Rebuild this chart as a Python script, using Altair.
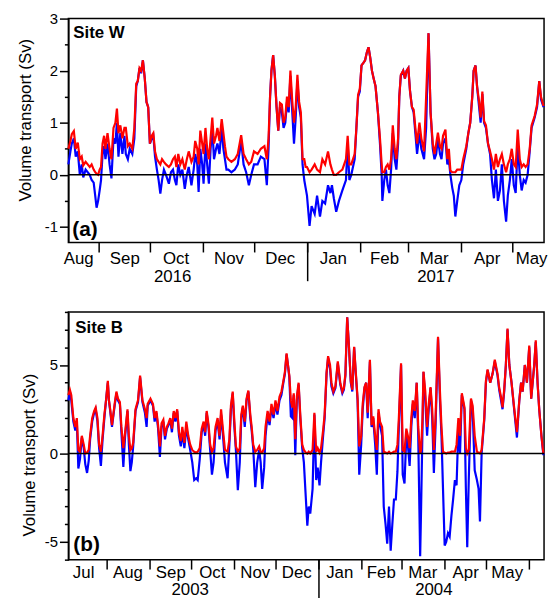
import altair as alt
import pandas as pd

FONT = "Liberation Sans"

# ---------------- Panel (a): Site W, 2016-2017 ----------------
a_start = "2016-08-14"
a_days = [0,1.2,2,3.2,4.3,5.5,6.7,7.8,8.7,10.1,
          11.3,12.5,13.6,14.8,15.7,16.5,17.4,18.3,19.1,20,
          20.9,21.7,22.9,24.1,25.2,26.4,27.5,28.4,29.3,30.4,
          31.6,32.8,33.6,34.8,35.9,37.4,38.6,39.7,40.6,41.6,
          42.6,43.6,44.7,45.7,46.7,47.7,48.8,49.7,50.7,51.8,
          52.8,53.8,54.8,55.9,57.1,58.8,60,61.2,62.3,63.2,
          64.3,65.5,66.7,68.1,69.3,70.4,72,73.3,74.2,75.4,
          76.2,77.2,78.3,79.1,80.2,81.2,82.2,83.2,84.2,85.2,
          86.4,87.2,88.4,89.7,90.7,91.6,92.5,93.6,95.4,97.4,
          99.1,101.1,102.5,104,105.6,107,108.6,110.7,112.6,114.7,
          116.1,117.1,118,118.8,119.8,120.8,121.8,122.8,123.8,124.9,
          125.9,126.9,127.9,128.9,129.9,131,132,133,134,135,
          136,137,138,138.8,139.6,141.1,142.3,144.1,145.5,147.2,
          148.6,150.2,151.9,153.3,154.2,155.3,156.7,158.3,160.3,162.4,
          163.4,164.4,165.5,167.5,168.5,169.5,170.5,171.5,172.6,173.6,
          174.6,175.6,176.6,177.6,178.6,179.7,181.1,182.3,183.3,183.7,
          184.8,185.8,186.8,187.8,188.8,189.8,190.9,191.9,192.9,193.6,
          194.5,195.9,196.9,197.9,198.9,199.9,201,202,203,204,
          205.4,206.5,208.1,209.3,210.7,211.9,213.2,214.2,215.2,216.2,
          217.4,218.3,219.2,220.6,221.7,222.6,223.5,224.6,225.5,226.4,
          227.5,228.7,229.9,231,232.8,234,235.1,236.3,237.1,238.2,
          239.1,240.3,241.2,242.2,243.2,244.3,245.5,246.7,247.8,249,
          250.1,251.3,252.5,253.6,254.8,256.1,257.1,258.3,259.4,260.6,
          261.7,262.9,264.1,265.2,266.4,267.5,268.7,269.9,271,272.8,
          274.2,275.5,276.5,278]
a_blue = [0.2,0.45,0.6,0.7,0.35,0.45,0.0,0.2,-0.05,0.1,
          0.05,0.0,-0.1,-0.15,-0.4,-0.63,-0.5,-0.3,-0.1,0.4,
          0.55,0.3,0.6,0.2,-0.07,0.7,0.6,1.0,0.35,0.8,
          0.4,0.75,0.4,0.3,0.5,0.4,0.7,1.7,1.8,2.05,
          1.95,2.2,1.85,1.4,1.3,0.6,0.7,0.75,0.35,0.1,
          -0.1,-0.36,-0.1,0.1,0.0,-0.17,0.05,0.1,-0.1,-0.2,
          0.2,0.0,0.1,-0.27,0.0,0.15,-0.2,0.1,0.4,0.2,
          -0.33,0.5,0.2,-0.17,0.6,0.2,-0.17,0.5,0.9,0.3,
          0.5,0.6,0.4,0.9,0.5,0.3,0.1,0.1,0.05,0.1,
          0.2,0.65,0.2,0.05,-0.2,0.0,0.2,0.2,0.35,0.3,
          -0.2,0.5,1.5,2.0,2.3,1.9,1.3,0.85,1.3,1.2,
          0.9,1.0,1.4,1.2,1.9,1.2,0.6,1.1,1.8,1.3,
          1.1,0.2,-0.1,-0.25,-0.4,-0.98,-0.6,-0.75,-0.4,-0.8,
          -0.5,-0.55,-0.2,-0.35,-0.2,-0.45,-0.71,-0.5,-0.3,-0.1,
          0.6,-0.1,0.0,0.3,0.9,1.5,1.6,2.1,2.15,2.2,
          2.35,2.45,2.25,2.0,1.85,1.7,1.2,0.6,0.0,-0.5,
          -0.1,0.1,-0.2,-0.35,0.1,0.8,0.3,0.1,0.6,1.5,
          1.9,2.0,1.85,2.0,2.05,1.6,1.3,1.2,0.8,0.4,
          0.8,0.5,0.3,0.9,2.72,1.2,0.5,0.3,0.4,0.7,
          0.4,0.3,0.6,0.7,0.2,0.3,0.0,-0.25,-0.4,-0.8,
          -0.5,-0.2,-0.1,0.2,0.5,0.8,1.0,1.5,2.0,2.1,
          1.7,1.3,1.0,1.55,1.0,0.9,0.6,0.4,-0.1,-0.45,
          0.1,-0.5,-0.3,0.2,-0.5,-0.9,-0.4,-0.1,0.3,-0.2,
          -0.35,0.6,0.0,-0.3,-0.1,-0.15,0.0,0.45,0.9,1.1,
          1.3,1.8,1.45,1.3]
a_red = [0.5,0.65,0.78,0.84,0.5,0.62,0.3,0.35,0.18,0.25,
         0.2,0.15,0.2,0.1,0.05,0.02,0.0,0.1,0.15,0.6,
         0.75,0.5,0.8,0.5,0.3,0.9,1.0,1.27,0.8,0.95,
         0.7,0.9,0.9,0.55,0.6,0.5,0.9,1.75,1.8,2.05,
         2.0,2.2,1.85,1.4,1.3,0.6,0.75,0.8,0.45,0.3,
         0.25,0.2,0.3,0.25,0.2,0.15,0.2,0.3,0.35,0.15,
         0.4,0.2,0.3,0.1,0.3,0.45,0.25,0.35,0.65,0.5,
         0.2,0.85,0.6,0.4,0.9,0.5,0.3,0.7,1.1,0.6,
         0.75,0.9,0.65,1.07,0.8,0.55,0.35,0.3,0.25,0.3,
         0.4,0.76,0.4,0.3,0.2,0.25,0.45,0.4,0.5,0.55,
         0.3,0.7,1.5,2.0,2.3,1.9,1.3,0.85,1.38,1.35,
         1.0,1.1,1.5,1.3,2.0,1.4,1.0,1.3,1.92,1.4,
         1.2,0.3,0.3,0.15,0.15,0.05,0.1,0.2,0.1,0.05,
         0.3,0.2,0.45,0.2,0.1,0.0,0.0,0.05,0.1,0.3,
         0.75,0.2,0.2,0.4,0.9,1.54,1.65,2.1,2.15,2.2,
         2.35,2.45,2.25,2.0,1.85,1.7,1.2,0.7,0.2,0.05,
         0.05,0.15,0.2,0.1,0.3,0.95,0.5,0.3,0.7,1.5,
         1.92,2.0,1.85,2.0,2.05,1.6,1.3,1.25,0.9,0.6,
         1.0,0.7,0.45,1.5,2.72,1.2,0.6,0.4,0.6,0.81,
         0.55,0.5,0.75,0.87,0.3,0.5,0.08,0.05,0.05,0.05,
         0.1,0.1,0.1,0.3,0.55,0.8,1.0,1.5,2.0,2.1,
         1.7,1.4,1.1,1.6,1.03,0.95,0.6,0.45,0.3,0.1,
         0.4,0.15,0.3,0.4,0.2,0.05,0.2,0.3,0.5,0.2,
         0.15,0.87,0.3,0.15,0.2,0.15,0.2,0.5,0.95,1.13,
         1.35,1.8,1.5,1.32]
a_domain = ["2016-08-14T00:00:00Z", "2017-05-19T07:00:00Z"]
a_month_ticks = ["2016-09-01", "2016-10-01", "2016-11-01", "2016-12-01", "2017-01-01",
                 "2017-02-01", "2017-03-01", "2017-04-01", "2017-05-01"]
a_month_names = ["Aug", "Sep", "Oct", "Nov", "Dec", "Jan", "Feb", "Mar", "Apr", "May"]
a_month_pos = ["2016-08-20", "2016-09-16", "2016-10-16", "2016-11-16", "2016-12-16",
               "2017-01-16", "2017-02-15", "2017-03-16", "2017-04-16", "2017-05-12"]
a_years = ["2016", "2017"]
a_year_pos = ["2016-10-14", "2017-03-17"]
a_year_break = ["2017-01-01"]
a_yticks_major = [-1, 0, 1, 2, 3]
a_yticks_minor = [-0.5, 0.5, 1.5, 2.5]
a_ydomain = [-1.3, 3]

# ---------------- Panel (b): Site B, 2003-2004 ----------------
b_start = "2003-07-04"
b_days = [0,1.1,2.1,3.6,5,6.1,7.2,8.4,9.7,11.1,
          12.2,13.5,14.7,15.7,17.2,18.6,19.7,21,22.2,23.5,
          24.7,26,27.2,28.5,29.3,30.2,31.5,32.6,33.6,34.7,
          35.8,37.2,38.3,39.7,41,42.7,43.7,44.8,45.8,46.8,
          48.5,50.3,51.8,53.5,55.3,56.5,57.3,59.3,61.1,62.3,
          63.6,64.8,66.1,67.3,68.6,69.8,71.1,72.3,73.6,74.8,
          76.1,77.3,78.6,79.9,81.2,82.3,83.8,85.2,86.6,88,
          89.5,90.9,92.3,93.4,94.9,96.3,97.7,98.8,99.9,101.3,
          102.4,103.7,104.9,106.3,107.8,109.2,110.3,111.7,113.1,115,
          116.3,117.4,118.7,119.9,121,122.4,123.8,124.9,126,127.4,
          128.7,130,131.4,132.4,133.5,135,136.4,137.8,138.9,140,
          141.4,142.4,143.9,145.3,146.7,148.2,149.6,151,152.5,153.9,
          155.3,156.4,157.6,158.6,159.6,160.7,161.8,162.8,163.9,165,
          166.3,167.5,168.9,170.1,171.5,172.6,173.6,174.7,176.4,177.7,
          179,180.1,181.4,182.5,184,185.1,186.5,187.6,189,190,
          191.4,192.9,194.6,196.4,197.9,199,200.1,201.4,202.7,204,
          205.1,206.4,207.6,208.9,210.1,211.5,212.6,213.9,215.1,216.2,
          217.8,219,220.2,221.6,222.8,224,225.1,226.6,227.8,229.1,
          230.3,231.6,232.8,234,235.2,236.5,237.7,238.7,240.3,241.5,
          242.8,244.1,245.2,246.5,247.7,248.8,250.2,251.6,252.7,254.1,
          254.8,255.8,256.5,257.8,259.1,260.3,261.6,262.8,264,265.2,
          267,268.4,269.5,270.6,271.8,272.9,274.2,275.4,276.7,277.9,
          279.2,280.4,281.7,282.9,284.2,286.1,287.1,288.1,289.2,290.8,
          292,293.5,295.1,296.3,297.3,298.5,300.4,301.6,302.8,304.7,
          306.4,308,310,311.2,312.5,313.6,314.8,316,317.2,318.5,
          320.1,322.1,324,325.7,327,328.1,329.7,331.2,332.9,334.3,
          336.5,337.6,338.9,340.1,341.7,343.1]
b_blue = [3.0,3.5,3.0,1.8,1.3,1.8,-0.85,-0.3,0.9,0.3,
          -0.6,-1.1,-0.4,0.8,1.8,2.3,2.5,1.8,0.3,-0.7,
          0.8,2.0,3.0,4.0,3.0,2.4,1.5,2.2,2.8,3.4,
          3.0,2.8,1.2,-0.76,1.0,2.4,0.5,-1.0,-0.5,0.4,
          2.4,2.9,4.3,2.9,2.3,1.5,2.7,3.0,2.7,1.8,
          2.3,1.4,-0.2,1.5,1.8,0.8,1.4,1.6,1.9,1.2,
          2.3,1.8,2.4,1.0,0.4,1.2,0.3,1.5,0.8,0.2,
          -0.5,-1.5,-1.4,-1.5,-0.3,1.2,1.6,1.0,2.3,1.4,
          0.2,-1.2,-0.5,1.3,1.8,0.8,2.2,1.0,-0.5,-1.4,
          0.5,2.5,3.4,1.5,0.2,-2.07,-0.5,2.0,2.6,1.5,
          3.0,3.5,2.0,1.3,0.3,-1.9,-0.5,0.2,-0.5,-2.0,
          -0.8,1.0,2.2,1.6,2.6,2.0,2.8,2.2,3.0,3.3,
          4.0,4.5,5.6,5.0,4.3,2.1,2.0,3.3,-0.1,3.0,
          3.9,2.0,0.3,-0.5,-2.5,-4.08,-3.0,-3.4,-2.0,2.2,
          -1.5,-0.8,-1.8,-0.5,1.0,2.0,4.5,5.4,4.8,3.8,
          3.4,3.7,5.1,3.9,3.4,3.6,4.4,7.7,6.0,4.0,
          3.5,6.0,4.5,3.0,-1.2,0.5,2.5,3.7,4.0,2.0,
          5.2,1.5,2.0,0.5,-1.2,2.3,1.6,1.0,-3.0,-4.0,
          -5.1,-3.0,-5.5,-4.0,-2.6,-2.6,-1.0,1.5,5.0,-1.2,
          -1.7,1.0,0.5,-0.7,1.5,2.8,2.0,4.0,1.0,-5.8,
          -3.0,1.5,4.6,3.0,1.0,2.5,3.7,2.0,-1.1,1.5,
          6.5,3.0,1.0,-2.0,-5.2,-5.0,-4.5,-4.7,-3.5,-2.6,
          -1.5,-1.8,1.5,0.0,3.3,2.5,-1.9,-5.3,-1.5,3.0,
          2.5,-0.95,-1.5,-2.0,-3.84,0.0,1.9,4.0,4.7,4.0,
          4.5,5.2,4.4,3.6,3.0,2.5,3.5,5.0,7.0,5.0,
          4.0,2.4,0.9,3.0,4.0,3.5,5.0,4.0,6.0,3.1,
          5.0,6.3,4.0,2.5,1.0,-0.1]
b_red = [3.3,3.6,3.3,2.0,1.5,2.0,0.2,0.1,1.0,0.5,
         0.0,0.05,0.2,1.0,2.0,2.4,2.6,2.0,0.5,0.1,
         1.0,2.2,3.0,4.1,3.0,2.5,1.6,2.3,2.9,3.5,
         3.1,2.9,1.5,0.3,1.2,2.5,1.0,0.2,0.3,0.6,
         2.5,3.0,4.4,3.0,2.5,2.0,2.8,3.1,2.8,2.0,
         2.4,1.6,0.4,1.7,1.9,1.0,1.5,1.7,2.0,1.4,
         2.4,2.0,2.5,1.2,0.7,1.5,0.6,1.8,1.0,0.5,
         0.2,0.1,0.05,0.1,0.3,1.4,1.8,1.2,2.4,1.6,
         0.5,0.1,0.3,1.5,2.0,1.0,2.5,1.3,0.2,0.1,
         0.8,2.7,3.5,1.8,0.4,0.1,0.3,2.2,2.7,1.8,
         3.1,3.56,2.2,1.5,0.5,0.1,0.2,0.4,0.1,0.05,
         0.3,1.5,2.4,1.8,2.8,2.2,3.0,2.4,3.2,3.5,
         4.1,4.6,5.66,5.0,4.4,3.0,2.6,3.4,0.8,3.2,
         4.0,2.2,0.5,0.2,0.05,0.0,0.1,0.0,0.2,2.3,
         0.1,0.3,0.05,0.3,1.3,2.2,4.6,5.5,5.0,4.0,
         3.5,3.8,5.2,4.0,3.5,3.7,4.5,7.7,6.0,4.1,
         3.6,6.03,4.6,3.1,0.4,1.0,2.8,3.75,4.0,2.3,
         5.3,1.6,2.1,1.0,0.2,2.5,1.8,1.5,0.1,0.05,
         0.0,0.1,0.0,0.05,0.1,0.1,0.5,2.0,5.1,0.2,
         0.1,1.4,1.0,0.3,2.0,3.0,2.4,4.0,1.5,0.0,
         0.2,2.0,4.63,3.5,1.5,2.8,3.75,2.5,0.2,2.0,
         6.6,3.5,1.5,0.1,0.05,0.0,0.05,0.05,0.1,0.1,
         0.1,0.5,2.0,1.0,3.4,2.6,0.3,0.0,0.2,3.1,
         2.7,1.0,0.1,0.05,0.0,0.2,2.0,4.1,4.75,4.0,
         4.5,5.3,4.5,3.7,3.2,2.6,3.6,5.0,7.06,5.0,
         4.0,2.5,1.2,3.0,4.0,3.5,5.0,4.0,6.1,3.1,
         5.0,6.4,4.0,2.5,1.0,0.0]
b_domain = ["2003-07-04T00:00:00Z", "2004-06-11T14:00:00Z"]
b_month_ticks = ["2003-08-01", "2003-09-01", "2003-10-01", "2003-11-01", "2003-12-01",
                 "2004-01-01", "2004-02-01", "2004-03-01", "2004-04-01", "2004-05-01",
                 "2004-06-01"]
b_month_names = ["Jul", "Aug", "Sep", "Oct", "Nov", "Dec", "Jan", "Feb", "Mar", "Apr", "May"]
b_month_pos = ["2003-07-15", "2003-08-16", "2003-09-16", "2003-10-16", "2003-11-16",
               "2003-12-16", "2004-01-16", "2004-02-15", "2004-03-16", "2004-04-16",
               "2004-05-16"]
b_years = ["2003", "2004"]
b_year_pos = ["2003-09-30", "2004-03-24"]
b_year_break = ["2004-01-01"]
b_yticks_major = [-5, 0, 5]
b_yticks_minor = [-6, -4, -3, -2, -1, 1, 2, 3, 4, 6, 7, 8]
b_ydomain = [-6, 8]


def iso(s):
    return pd.Timestamp(s, tz="UTC").strftime("%Y-%m-%dT%H:%M:%SZ")


def ms(s):
    return int(pd.Timestamp(s, tz="UTC").timestamp() * 1000)


def panel(start, days, blue, red, domain, ticks, mnames, mpos, years, ypos, ybreak,
          ymajor, yminor, ydomain, site, letter, W, H, title_x, title_y,
          site_xy, letter_xy, month_dy, year_dy, break_len):
    t0 = pd.Timestamp(start, tz="UTC")
    ts = [(t0 + pd.Timedelta(days=d)).strftime("%Y-%m-%dT%H:%M:%SZ") for d in days]
    df = pd.DataFrame({"t": ts, "blue": blue, "red": red})
    xscale = alt.Scale(type="utc", domain=[ms(d) for d in domain])
    yscale = alt.Scale(domain=ydomain, nice=False, zero=False)
    X = alt.X("t:T", scale=xscale, axis=None)

    yaxis_major = alt.Axis(values=ymajor, labelExpr="'' + datum.value", tickSize=9,
                           labelPadding=2, grid=False, orient="left",
                           title="Volume transport (Sv)", titleX=title_x, titleY=title_y)
    yaxis_minor = alt.Axis(values=yminor, labels=False, tickSize=4, grid=False,
                           orient="left", domain=False, title=None)

    base = alt.Chart(df)
    blue_line = base.mark_line(color="#0000ff", strokeWidth=2.2).encode(
        x=X, y=alt.Y("blue:Q", scale=yscale, axis=yaxis_major),
    )
    red_line = base.mark_line(color="#ff0000", strokeWidth=2.2).encode(
        x=X, y=alt.Y("red:Q", scale=yscale, axis=yaxis_minor),
    )
    zero = alt.Chart(pd.DataFrame({"z": [0]})).mark_rule(color="black", strokeWidth=1.5).encode(
        y=alt.Y("z:Q", scale=yscale, axis=None)
    )
    site_t = alt.Chart(pd.DataFrame({"s": [site]})).mark_text(
        align="left", baseline="alphabetic", font=FONT, fontSize=17, fontWeight="bold",
        color="black").encode(x=alt.value(site_xy[0]), y=alt.value(site_xy[1]), text="s:N")
    letter_t = alt.Chart(pd.DataFrame({"s": [letter]})).mark_text(
        align="left", baseline="alphabetic", font=FONT, fontSize=21, fontWeight="bold",
        color="black").encode(x=alt.value(letter_xy[0]), y=alt.value(letter_xy[1]), text="s:N")
    mticks = alt.Chart(pd.DataFrame({"t": [iso(v) for v in ticks]})).mark_rule(
        color="black", strokeWidth=1.5).encode(
        x=X, y=alt.value(H), y2=alt.value(H + 10))
    months = alt.Chart(pd.DataFrame({"t": [iso(v) for v in mpos], "m": mnames})).mark_text(
        align="center", baseline="alphabetic", font=FONT, fontSize=17, color="black").encode(
        x=X, y=alt.value(H + month_dy), text="m:N")
    yrs = alt.Chart(pd.DataFrame({"t": [iso(v) for v in ypos], "y": years})).mark_text(
        align="center", baseline="alphabetic", font=FONT, fontSize=17, color="black").encode(
        x=X, y=alt.value(H + year_dy), text="y:N")
    brk = alt.Chart(pd.DataFrame({"t": [iso(v) for v in ybreak]})).mark_rule(
        color="black", strokeWidth=1.5).encode(
        x=X, y=alt.value(H), y2=alt.value(H + break_len))
    return alt.layer(blue_line, red_line, zero, site_t, letter_t, mticks, months, yrs,
                     brk).resolve_axis(y="independent").properties(width=W, height=H)


pa = panel(a_start, a_days, a_blue, a_red, a_domain, a_month_ticks, a_month_names,
           a_month_pos, a_years, a_year_pos, a_year_break, a_yticks_major, a_yticks_minor,
           a_ydomain, "Site W", "(a)", 480, 226, -34, 102, (5, 20), (4, 219), 22, 40, 39)
pb = panel(b_start, b_days, b_blue, b_red, b_domain, b_month_ticks, b_month_names,
           b_month_pos, b_years, b_year_pos, b_year_break, b_yticks_major, b_yticks_minor,
           b_ydomain, "Site B", "(b)", 480, 250, -30, 144, (7, 21), (5, 241), 19, 36, 40)

chart = alt.vconcat(pa, pb, spacing=24).properties(
    padding={"left": 16, "top": 8, "right": 0, "bottom": 0}
).configure_view(
    stroke="black", strokeWidth=1.5
).configure_axis(
    domainColor="black", domainWidth=1.5, tickColor="black", tickWidth=1.5,
    labelFont=FONT, labelFontSize=15, labelColor="black",
    titleFont=FONT, titleFontSize=17, titleFontWeight="normal", titleColor="black",
)

chart.save("out.html", embed_options={"renderer": "svg", "actions": False})
